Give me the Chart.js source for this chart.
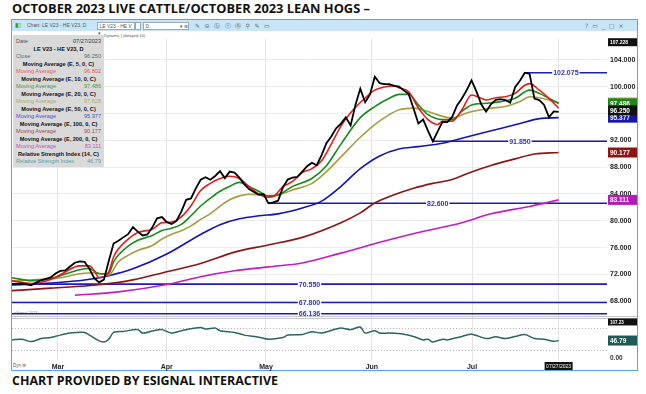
<!DOCTYPE html>
<html>
<head>
<meta charset="utf-8">
<script src="https://cdn.jsdelivr.net/npm/chart.js@4.4.0/dist/chart.umd.min.js"></script>
<style>
  body { margin: 0; width: 646px; height: 394px; background: #fff; position: relative; overflow: hidden; font-family: 'Liberation Sans', Arial, sans-serif; }
  .fit { position: absolute; white-space: nowrap; transform-origin: 0 0; color: #111; font-family: 'Open Sans', sans-serif; font-weight: 700; }
  #title { left: 12px; top: 0px; font-size: 13px; line-height: 16px; }
  #caption { left: 12px; top: 373px; font-size: 12px; line-height: 16px; }
  #frame { position: absolute; left: 11px; top: 19px; width: 625px; height: 350px; border: 1.5px solid #4ea9e4; }
  #toolbar { position: absolute; left: 12px; top: 20px; width: 625px; height: 11px; background: #c6e6f8; font-size: 5px; color: #555; }
  #toolbar span { position: absolute; top: 2px; line-height: 7px; }
  .dd { background: #fff; border: 1px solid #9ab; height: 6px; top: 1.5px !important; }
  #legendBox { position: absolute; left: 13px; top: 35px; width: 91px; height: 132px; background: #d9d9d9; font-size: 5.6px; z-index: 2; }
  #legendBox div { position: absolute; left: 3px; right: 3px; height: 7px; line-height: 7px; }
  #legendBox .h { text-align: center; font-weight: 700; color: #111; }
  #legendBox .r { float: right; }
  #chartWrap { position: absolute; left: 12px; top: 31px; width: 626px; height: 340px; }
  .tiny { position: absolute; font-size: 4px; color: #555; white-space: nowrap; }
</style>
</head>
<body>
<div id="title" class="fit">OCTOBER 2023 LIVE CATTLE/OCTOBER 2023 LEAN HOGS –</div>
<div id="frame"></div>
<div id="toolbar">
  <span style="left:3px;color:#2a9a2a;font-size:6px">▮▯</span>
  <span style="left:15px">Chart: LE V23 - HE V23, D</span>
  <span class="dd" style="left:85px;width:36px">&nbsp;LE V23 - HE V ▾</span>
  <span class="dd" style="left:123px;width:4px"></span>
  <span class="dd" style="left:131px;width:44px">&nbsp;D<span style="position:static;float:right">▾ ⊗</span></span>
  <span style="left:183px;font-family:'DejaVu Sans';font-size:6px;top:1.5px;letter-spacing:4.5px;color:#666">✎⊖ⓑⓣⓐ⚲✎▭</span>
  <span style="left:573px;font-family:'DejaVu Sans';font-size:6px;top:1.5px;letter-spacing:4px;color:#666">?▭_□×</span>
</div>
<div class="tiny" style="left:104px;top:33px">Dynamic | (delayed 10)</div>
<div class="tiny" style="left:14px;top:310px;color:#888">eSignal 2023</div>
<div class="tiny" style="left:13px;top:363px;font-size:4.5px">Dyn ⊜</div>
<div id="legendBox"></div>
<div id="chartWrap"><canvas id="chart" width="626" height="340"></canvas></div>
<div id="caption" class="fit">CHART PROVIDED BY ESIGNAL INTERACTIVE</div>

<script>
// Daily closes of the LE V23 - HE V23 spread, one per trading day (index 0 = mid Feb)
const closes = [
  70.59, 70.62, 70.64, 70.52, 70.37, 70.78, 71.12, 71.32, 71.56, 72.13,
  72.51, 72.58, 73.17, 73.74, 73.93, 73.86, 72.83, 71.44, 70.81, 71.22,
  74.00, 76.61, 77.03, 77.52, 78.00, 79.04, 78.37, 77.81, 77.96, 79.02,
  80.36, 80.55, 79.79, 79.51, 79.98, 81.37, 83.12, 83.33, 84.84, 86.11,
  86.48, 86.11, 86.68, 87.40, 86.36, 87.33, 87.18, 86.42, 85.47, 84.72,
  84.30, 83.89, 83.99, 82.60, 82.74, 82.99, 84.98, 86.14, 86.45, 86.54,
  87.33, 88.13, 88.66, 88.28, 89.79, 91.57, 92.57, 93.78, 94.50, 95.42,
  94.21, 97.28, 99.71, 97.68, 98.85, 101.47, 100.53, 100.39, 100.37, 100.11,
  100.02, 99.45, 98.89, 96.78, 94.50, 95.09, 93.40, 91.85, 93.33, 94.74,
  94.71, 95.48, 97.21, 98.23, 99.48, 100.93, 99.29, 97.36, 96.26, 97.36,
  98.02, 98.13, 98.00, 97.60, 99.93, 100.87, 102.075, 101.90, 98.22, 98.00,
  97.28, 95.45, 96.30, 96.25
];

// Exponential moving averages at these trading-day indices
const ma5Day = [0, 4, 8, 10, 14, 16, 17, 18, 20, 21, 22, 24, 26, 29, 31, 33, 35, 37, 39, 41, 43, 45, 47, 49, 51, 53, 54, 56, 58, 60, 62, 64, 66, 68, 70, 73, 75, 77, 79, 80, 82, 84, 86, 88, 89, 91, 93, 95, 97, 98, 100, 102, 104, 106, 107, 109, 111, 113];
const ma5Val = [71.07, 70.64, 71.22, 71.95, 73.27, 73.27, 72.54, 71.51, 72.39, 74.59, 75.80, 77.27, 78.25, 78.73, 79.71, 79.82, 80.59, 82.25, 84.50, 85.57, 86.30, 86.64, 86.30, 85.09, 84.00, 83.52, 83.62, 85.09, 85.86, 87.18, 87.77, 88.94, 91.43, 94.11, 96.11, 98.31, 99.48, 99.96, 100.11, 99.82, 99.23, 96.84, 95.09, 94.35, 94.84, 94.84, 96.55, 98.75, 98.26, 98.01, 98.35, 98.50, 99.00, 100.21, 100.46, 99.48, 98.26, 96.802];

const ma10Day = [0, 4, 8, 10, 14, 16, 18, 20, 21, 22, 24, 26, 29, 31, 33, 35, 37, 39, 41, 43, 45, 47, 49, 51, 53, 55, 58, 62, 65, 68, 72, 75, 78, 80, 82, 84, 86, 89, 91, 93, 95, 98, 101, 104, 107, 109, 111, 113];
const ma10Val = [71.51, 71.07, 71.37, 71.81, 72.69, 72.88, 72.10, 72.14, 73.86, 74.88, 76.20, 77.08, 77.81, 78.54, 78.88, 79.46, 80.74, 82.20, 83.37, 84.40, 85.13, 85.72, 85.13, 84.40, 83.71, 83.86, 85.13, 86.30, 88.21, 91.43, 95.38, 97.03, 98.26, 98.85, 98.85, 97.28, 95.82, 95.09, 95.09, 96.30, 97.28, 97.53, 97.77, 98.26, 99.48, 99.00, 98.26, 97.486];

const ma20Day = [0, 10, 14, 17, 20, 22, 24, 26, 29, 31, 33, 35, 37, 39, 41, 43, 45, 47, 49, 51, 53, 55, 58, 62, 65, 68, 72, 75, 78, 80, 83, 86, 89, 91, 94, 97, 99, 102, 105, 107, 109, 111, 113];
const ma20Val = [71.00, 71.51, 72.10, 72.25, 71.91, 73.86, 74.84, 75.57, 76.30, 77.27, 78.00, 78.50, 79.23, 80.20, 81.07, 82.16, 83.12, 83.71, 83.96, 83.86, 83.62, 83.86, 84.59, 85.57, 87.33, 89.52, 92.45, 94.35, 95.82, 96.55, 96.80, 96.30, 95.57, 95.34, 96.07, 96.55, 96.80, 97.03, 97.77, 98.50, 98.35, 98.01, 97.628];

const ma50Day = [0, 8, 15, 20, 25, 32, 39, 43, 47, 51, 55, 60, 64, 68, 72, 76, 80, 84, 89, 93, 97, 101, 105, 109, 113];
const ma50Val = [70.42, 70.71, 71.15, 71.81, 72.83, 75.03, 77.96, 79.42, 80.30, 80.74, 81.03, 81.91, 82.93, 85.13, 87.77, 89.67, 90.69, 91.06, 91.57, 92.30, 93.04, 93.77, 94.50, 95.23, 95.377];

const ma100Day = [0, 8, 18, 25, 32, 39, 46, 53, 60, 68, 72, 75, 79, 83, 87, 91, 95, 99, 104, 108, 113];
const ma100Val = [69.57, 69.95, 70.45, 71.18, 72.39, 73.61, 75.32, 76.39, 77.52, 79.71, 81.18, 82.64, 83.86, 84.84, 85.57, 86.16, 87.28, 88.25, 89.23, 89.96, 90.177];

const ma200Day = [13, 22, 32, 39, 46, 53, 60, 68, 76, 84, 93, 99, 107, 113];
const ma200Val = [68.88, 69.39, 70.49, 71.66, 72.54, 73.12, 73.71, 75.17, 76.78, 78.25, 79.71, 81.03, 82.13, 83.111];

// Relative Strength Index (14) panel
const rsiDay = [0, 2, 4, 6, 8, 10, 12, 15, 16, 18, 19, 20, 21, 23, 26, 27, 29, 31, 33, 35, 39, 40, 42, 43, 46, 48, 51, 53, 56, 57, 60, 62, 64, 67, 68, 70, 72, 73, 75, 76, 78, 81, 83, 85, 86, 87, 89, 90, 93, 95, 98, 100, 102, 104, 106, 108, 110, 112, 113];
const rsiVal = [48.5, 50.2, 43.9, 52.1, 54.9, 61.3, 66.8, 68.6, 61.3, 45.8, 43.1, 50.2, 68.6, 71.3, 76.0, 66.8, 72.2, 76.0, 66.8, 73.2, 81.5, 77.6, 80.4, 73.2, 68.6, 61.3, 55.7, 50.2, 54.9, 61.3, 63.1, 70.5, 66.8, 77.6, 80.4, 76.0, 83.1, 66.8, 73.2, 66.8, 66.8, 63.9, 57.6, 48.5, 50.2, 43.1, 50.2, 48.5, 57.6, 63.9, 52.1, 56.6, 52.1, 57.6, 63.1, 52.1, 50.2, 44.7, 46.79];

// Horizontal support / resistance levels and the day each one starts
const levelValues = [102.075, 91.850, 82.600, 70.550, 67.800, 66.136];
const levelStart = [106, 87, 53, 0, 0, 0];

// Axis ticks
const priceTicks = [68, 72, 76, 80, 84, 88, 92, 96, 100, 104];
const priceMin = 65.5, priceMax = 107.228;
const rsiMin = -8, rsiMax = 107.23;
const rsiBands = [20, 80];
const monthLabels = ['Mar', 'Apr', 'May', 'Jun', 'Jul'];
const monthIdx = [9.5, 32, 52.5, 74.4, 95.1];
const lastDate = '07/27/2023';
const lastIdx = closes.length - 1;
const dayMax = 123;

const pts = (days, vals) => days.map((d, i) => ({ x: d, y: vals[i] }));

const series = [
  { name: 'Moving Average', head: 'Moving Average (E, 5, 0, C)', color: '#e41c1c', legend: '#e45858', days: ma5Day, vals: ma5Val },
  { name: 'Moving Average', head: 'Moving Average (E, 10, 0, C)', color: '#178a17', legend: '#3d9a3d', days: ma10Day, vals: ma10Val },
  { name: 'Moving Average', head: 'Moving Average (E, 20, 0, C)', color: '#a69d3e', legend: '#b0a860', days: ma20Day, vals: ma20Val },
  { name: 'Moving Average', head: 'Moving Average (E, 50, 0, C)', color: '#1313b8', legend: '#4b4bd0', days: ma50Day, vals: ma50Val },
  { name: 'Moving Average', head: 'Moving Average (E, 100, 0, C)', color: '#8c1515', legend: '#a04848', days: ma100Day, vals: ma100Val },
  { name: 'Moving Average', head: 'Moving Average (E, 200, 0, C)', color: '#c21cc2', legend: '#c050c0', days: ma200Day, vals: ma200Val }
];
const rsiColor = '#2c6460';
const levelColor = '#1c1cae';

// legend box in the top-left corner
(function buildLegend() {
  const box = document.getElementById('legendBox');
  const rows = [];
  rows.push(`<span style="color:#555">Date</span><span class="r" style="color:#333">${lastDate}</span>`);
  rows.push({ h: 'LE V23 - HE V23, D' });
  rows.push(`<span style="color:#666">Close</span><span class="r" style="color:#666">${closes[lastIdx].toFixed(3)}</span>`);
  series.forEach(s => {
    rows.push({ h: s.head });
    rows.push(`<span style="color:${s.legend}">${s.name}</span><span class="r" style="color:${s.legend}">${s.vals[s.vals.length - 1].toFixed(3)}</span>`);
  });
  rows.push({ h: 'Relative Strength Index (14, C)' });
  rows.push(`<span style="color:#5a9aa0">Relative Strength Index</span><span class="r" style="color:#5a9aa0">${rsiVal[rsiVal.length - 1].toFixed(2)}</span>`);
  rows.forEach((r, k) => {
    const d = document.createElement('div');
    d.style.top = (3.2 + k * 7.5) + 'px';
    if (typeof r === 'object') { d.className = 'h'; d.textContent = r.h; } else d.innerHTML = r;
    box.appendChild(d);
  });
})();

function fitWidth(id, w) {
  const el = document.getElementById(id);
  el.style.transform = `scaleX(${w / el.getBoundingClientRect().width})`;
}
fitWidth('title', 358);
fitWidth('caption', 266);

const datasets = [
  { data: closes.map((v, i) => ({ x: i, y: v })), borderColor: '#000', borderWidth: 1.8, yAxisID: 'y' }
];
series.forEach(s => datasets.push({
  data: pts(s.days, s.vals), borderColor: s.color, borderWidth: 1.6, yAxisID: 'y', cubicInterpolationMode: 'monotone'
}));
datasets.push({ data: pts(rsiDay, rsiVal), borderColor: rsiColor, borderWidth: 1.5, yAxisID: 'yR', tension: 0.3 });
levelValues.forEach((v, k) => datasets.push({
  data: [{ x: levelStart[k], y: v }, { x: dayMax, y: v }], borderColor: levelColor, borderWidth: 1.6, yAxisID: 'y'
}));

// labels on the level lines, value boxes on the right axis, date box
const overlay = {
  id: 'overlay',
  afterDatasetsDraw(chart) {
    const { ctx, scales: { x, y } } = chart;
    ctx.save();
    ctx.font = 'bold 7px "Liberation Sans"';
    ctx.textAlign = 'center';
    ctx.textBaseline = 'middle';
    levelValues.forEach((v, k) => {
      const cx = (x.getPixelForValue(levelStart[k]) + x.getPixelForValue(dayMax)) / 2;
      const cy = y.getPixelForValue(v);
      const t = v.toFixed(3);
      const w = ctx.measureText(t).width + 2;
      ctx.fillStyle = '#fff';
      ctx.fillRect(cx - w / 2, cy - 3.5, w, 7);
      ctx.fillStyle = '#3232b8';
      ctx.fillText(t, cx, cy + 0.5);
    });
    ctx.restore();
  },
  afterDraw(chart) {
    const { ctx, chartArea: a, scales: { x, y, yR } } = chart;
    const bx = a.right + 1, bw = 30;
    ctx.save();
    // panel separator
    ctx.strokeStyle = '#c4c4c4';
    ctx.lineWidth = 1;
    [y.bottom - 1.5, y.bottom + 0.5].forEach(py => {
      ctx.beginPath(); ctx.moveTo(a.left, py); ctx.lineTo(a.right + bw, py); ctx.stroke();
    });
    const box = (py, text, bg, h = 10, size = 6.5) => {
      ctx.fillStyle = bg;
      ctx.fillRect(bx, py - h / 2, bw - 1, h);
      ctx.fillStyle = '#fff';
      ctx.font = `bold ${size}px "Liberation Sans"`;
      ctx.textAlign = 'left';
      ctx.textBaseline = 'middle';
      ctx.fillText(text, bx + 2, py + 0.5);
    };
    box(y.top + 4, priceMax.toFixed(3), '#111', 8, 5);
    const last = s => s.vals[s.vals.length - 1];
    box(y.getPixelForValue(last(series[2])), last(series[2]).toFixed(3), '#a69d3e');
    box(y.getPixelForValue(last(series[0])), last(series[0]).toFixed(3), '#d42020');
    box(y.getPixelForValue(last(series[1])), last(series[1]).toFixed(3), '#1e881e');
    box(y.getPixelForValue(last(series[3])), last(series[3]).toFixed(3), '#1616a8');
    box(y.getPixelForValue(closes[lastIdx]) - 1.5, closes[lastIdx].toFixed(3), '#111');
    box(y.getPixelForValue(last(series[4])), last(series[4]).toFixed(3), '#8c1515');
    box(y.getPixelForValue(last(series[5])), last(series[5]).toFixed(3), '#b41cb4');
    // RSI panel labels
    box(yR.top + 4, rsiMax.toFixed(2), '#111', 7, 4.5);
    box(yR.getPixelForValue(rsiVal[rsiVal.length - 1]), rsiVal[rsiVal.length - 1].toFixed(2), '#1f5a57');
    ctx.fillStyle = '#333';
    ctx.font = 'bold 6.5px "Liberation Sans"';
    ctx.textBaseline = 'middle';
    ctx.fillText('0.00', bx + 2, yR.getPixelForValue(0));
    // last date box on the time axis
    const dx = x.getPixelForValue(lastIdx);
    ctx.fillStyle = '#111';
    ctx.fillRect(dx - 14, a.bottom + 1, 28, 8);
    ctx.fillStyle = '#fff';
    ctx.font = '5px "Liberation Sans"';
    ctx.textAlign = 'center';
    ctx.fillText(lastDate, dx, a.bottom + 5.5);
    ctx.restore();
  }
};

new Chart(document.getElementById('chart'), {
  type: 'line',
  data: { datasets },
  options: {
    responsive: false,
    animation: false,
    devicePixelRatio: 1,
    layout: { padding: 0 },
    elements: { point: { radius: 0 }, line: { fill: false } },
    plugins: { legend: { display: false }, tooltip: { enabled: false } },
    scales: {
      x: {
        type: 'linear', min: 0, max: dayMax,
        grid: { color: '#e4e4e4', drawTicks: false },
        border: { display: false },
        afterBuildTicks: s => { s.ticks = monthIdx.concat([lastIdx]).map(v => ({ value: v })); },
        afterFit: s => { s.height = 10; },
        ticks: {
          autoSkip: false, maxRotation: 0, padding: 2, color: '#222',
          font: { family: 'Liberation Sans', size: 7, weight: 'bold' },
          callback: v => { const k = monthIdx.indexOf(v); return k >= 0 ? monthLabels[k] : ''; }
        }
      },
      y: {
        position: 'right', stack: 'panes', stackWeight: 286,
        min: priceMin, max: priceMax,
        grid: { color: '#ececec', drawTicks: false },
        border: { display: false },
        afterBuildTicks: s => { s.ticks = priceTicks.map(v => ({ value: v })); },
        afterFit: s => { s.width = 31; },
        ticks: {
          padding: 3, color: '#222',
          font: { family: 'Liberation Sans', size: 7, weight: 'bold' },
          callback: v => v.toFixed(3)
        }
      },
      yR: {
        position: 'right', stack: 'panes', stackWeight: 44,
        min: rsiMin, max: rsiMax,
        grid: { color: '#b4b4b4', drawTicks: false },
        border: { display: false, dash: [1, 2] },
        afterBuildTicks: s => { s.ticks = rsiBands.map(v => ({ value: v })); },
        afterFit: s => { s.width = 31; },
        ticks: { display: false }
      }
    }
  },
  plugins: [overlay]
});
</script>
</body>
</html>
